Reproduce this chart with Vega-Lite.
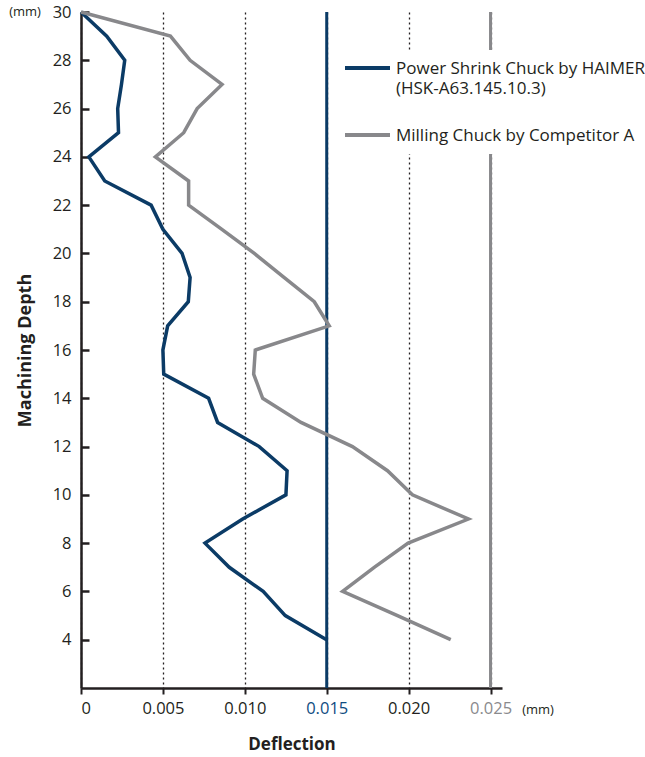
{
  "$schema": "https://vega.github.io/schema/vega-lite/v6.json",
  "width": 421,
  "height": 676,
  "autosize": "none",
  "padding": {"left": 81, "top": 12, "right": 143, "bottom": 69},
  "config": {
    "view": {"stroke": null},
    "font": "Open Sans",
    "axis": {"labelFont": "Open Sans", "titleFont": "Open Sans", "domainColor": "#231f20", "tickColor": "#231f20", "labelColor": "#231f20", "titleColor": "#231f20"},
    "legend": {"labelFont": "Open Sans"}
  },
  "datasets": {
    "deflection": [
      {"depth": 30, "value": 0.0, "chuck": "Power Shrink Chuck by HAIMER"},
      {"depth": 29, "value": 0.00157, "chuck": "Power Shrink Chuck by HAIMER"},
      {"depth": 28, "value": 0.00267, "chuck": "Power Shrink Chuck by HAIMER"},
      {"depth": 27, "value": 0.00247, "chuck": "Power Shrink Chuck by HAIMER"},
      {"depth": 26, "value": 0.00224, "chuck": "Power Shrink Chuck by HAIMER"},
      {"depth": 25, "value": 0.00229, "chuck": "Power Shrink Chuck by HAIMER"},
      {"depth": 24, "value": 0.00048, "chuck": "Power Shrink Chuck by HAIMER"},
      {"depth": 23, "value": 0.00145, "chuck": "Power Shrink Chuck by HAIMER"},
      {"depth": 22, "value": 0.00428, "chuck": "Power Shrink Chuck by HAIMER"},
      {"depth": 21, "value": 0.0050, "chuck": "Power Shrink Chuck by HAIMER"},
      {"depth": 20, "value": 0.00617, "chuck": "Power Shrink Chuck by HAIMER"},
      {"depth": 19, "value": 0.00666, "chuck": "Power Shrink Chuck by HAIMER"},
      {"depth": 18, "value": 0.00655, "chuck": "Power Shrink Chuck by HAIMER"},
      {"depth": 17, "value": 0.00529, "chuck": "Power Shrink Chuck by HAIMER"},
      {"depth": 16, "value": 0.0050, "chuck": "Power Shrink Chuck by HAIMER"},
      {"depth": 15, "value": 0.00505, "chuck": "Power Shrink Chuck by HAIMER"},
      {"depth": 14, "value": 0.00779, "chuck": "Power Shrink Chuck by HAIMER"},
      {"depth": 13, "value": 0.00834, "chuck": "Power Shrink Chuck by HAIMER"},
      {"depth": 12, "value": 0.01088, "chuck": "Power Shrink Chuck by HAIMER"},
      {"depth": 11, "value": 0.01258, "chuck": "Power Shrink Chuck by HAIMER"},
      {"depth": 10, "value": 0.01251, "chuck": "Power Shrink Chuck by HAIMER"},
      {"depth": 9, "value": 0.00987, "chuck": "Power Shrink Chuck by HAIMER"},
      {"depth": 8, "value": 0.00757, "chuck": "Power Shrink Chuck by HAIMER"},
      {"depth": 7, "value": 0.00905, "chuck": "Power Shrink Chuck by HAIMER"},
      {"depth": 6, "value": 0.01112, "chuck": "Power Shrink Chuck by HAIMER"},
      {"depth": 5, "value": 0.01247, "chuck": "Power Shrink Chuck by HAIMER"},
      {"depth": 4, "value": 0.01499, "chuck": "Power Shrink Chuck by HAIMER"},
      {"depth": 30, "value": 0.0, "chuck": "Milling Chuck by Competitor A"},
      {"depth": 29, "value": 0.00546, "chuck": "Milling Chuck by Competitor A"},
      {"depth": 28, "value": 0.00666, "chuck": "Milling Chuck by Competitor A"},
      {"depth": 27, "value": 0.00861, "chuck": "Milling Chuck by Competitor A"},
      {"depth": 26, "value": 0.00709, "chuck": "Milling Chuck by Competitor A"},
      {"depth": 25, "value": 0.00627, "chuck": "Milling Chuck by Competitor A"},
      {"depth": 24, "value": 0.00454, "chuck": "Milling Chuck by Competitor A"},
      {"depth": 23, "value": 0.00657, "chuck": "Milling Chuck by Competitor A"},
      {"depth": 22, "value": 0.00657, "chuck": "Milling Chuck by Competitor A"},
      {"depth": 21, "value": 0.0086, "chuck": "Milling Chuck by Competitor A"},
      {"depth": 20, "value": 0.01058, "chuck": "Milling Chuck by Competitor A"},
      {"depth": 19, "value": 0.01241, "chuck": "Milling Chuck by Competitor A"},
      {"depth": 18, "value": 0.01424, "chuck": "Milling Chuck by Competitor A"},
      {"depth": 17, "value": 0.01515, "chuck": "Milling Chuck by Competitor A"},
      {"depth": 16, "value": 0.01064, "chuck": "Milling Chuck by Competitor A"},
      {"depth": 15, "value": 0.01054, "chuck": "Milling Chuck by Competitor A"},
      {"depth": 14, "value": 0.01109, "chuck": "Milling Chuck by Competitor A"},
      {"depth": 13, "value": 0.01343, "chuck": "Milling Chuck by Competitor A"},
      {"depth": 12, "value": 0.01657, "chuck": "Milling Chuck by Competitor A"},
      {"depth": 11, "value": 0.01871, "chuck": "Milling Chuck by Competitor A"},
      {"depth": 10, "value": 0.02023, "chuck": "Milling Chuck by Competitor A"},
      {"depth": 9, "value": 0.02365, "chuck": "Milling Chuck by Competitor A"},
      {"depth": 8, "value": 0.01997, "chuck": "Milling Chuck by Competitor A"},
      {"depth": 7, "value": 0.0179, "chuck": "Milling Chuck by Competitor A"},
      {"depth": 6, "value": 0.01597, "chuck": "Milling Chuck by Competitor A"},
      {"depth": 5, "value": 0.01932, "chuck": "Milling Chuck by Competitor A"},
      {"depth": 4, "value": 0.02257, "chuck": "Milling Chuck by Competitor A"}
    ],
    "limits": [
      {"chuck": "Power Shrink Chuck by HAIMER", "limit": 0.015},
      {"chuck": "Milling Chuck by Competitor A", "limit": 0.025}
    ],
    "unit": [{"unit": "(mm)"}]
  },
  "layer": [
    {
      "data": {"name": "limits"},
      "mark": {"type": "rule", "strokeWidth": 3},
      "encoding": {
        "x": {"field": "limit", "type": "quantitative", "scale": {"domain": [0, 0.0257], "nice": false, "zero": false},
          "axis": {
            "values": [0, 0.005, 0.01, 0.015, 0.02, 0.025],
            "labelExpr": "datum.value == 0 ? '0' : format(datum.value, '.3f')",
            "labelFontSize": 16.5,
            "labelColor": {"condition": [{"test": "abs(datum.value-0.015) < 1e-6", "value": "#0f4c81"}, {"test": "abs(datum.value-0.025) < 1e-6", "value": "#8a8a8d"}], "value": "#231f20"},
            "labelPadding": 6,
            "tickSize": 6,
            "tickWidth": 2,
            "domainWidth": 2.5,
            "grid": true,
            "gridDash": [2, 3],
            "gridColor": "#231f20",
            "gridWidth": 1.3,
            "title": "Deflection",
            "titleFontSize": 17,
            "titleFontWeight": "bold",
            "titlePadding": 20
          }
        },
        "color": {"field": "chuck", "type": "nominal",
          "scale": {"domain": ["Power Shrink Chuck by HAIMER", "Milling Chuck by Competitor A"], "range": ["#0b3b66", "#88888b"]},
          "legend": {
            "title": null,
            "orient": "none",
            "legendX": 252,
            "legendY": 38,
            "padding": 10,
            "fillColor": "white",
            "symbolType": "stroke",
            "symbolSize": 2025,
            "symbolStrokeWidth": 4,
            "labelFontSize": 17,
            "labelColor": "#231f20",
            "labelOffset": 4,
            "labelLimit": 400,
            "labelBaseline": "top",
            "rowPadding": 29,
            "labelExpr": "datum.label == 'Power Shrink Chuck by HAIMER' ? ['Power Shrink Chuck by HAIMER', '(HSK-A63.145.10.3)'] : datum.label",
            "encode": {
              "labels": {"update": {"y": {"value": 0.5}, "lineHeight": {"value": 20}}},
              "symbols": {"update": {"y": {"value": 8}}}
            }
          }
        }
      }
    },
    {
      "data": {"name": "deflection"},
      "mark": {"type": "line", "strokeWidth": 3.5, "strokeJoin": "miter"},
      "encoding": {
        "x": {"field": "value", "type": "quantitative"},
        "y": {"field": "depth", "type": "quantitative", "scale": {"domain": [2, 30], "nice": false, "zero": false},
          "axis": {
            "values": [4, 6, 8, 10, 12, 14, 16, 18, 20, 22, 24, 26, 28, 30],
            "labelFontSize": 16.5,
            "tickSize": -8,
            "tickWidth": 2.5,
            "domainWidth": 2.5,
            "labelPadding": 18,
            "grid": false,
            "title": "Machining Depth",
            "titleFontSize": 18,
            "titleFontWeight": "bold",
            "titlePadding": 18
          }
        },
        "order": {"field": "depth", "type": "quantitative"},
        "color": {"field": "chuck", "type": "nominal"}
      }
    },
    {
      "data": {"name": "unit"},
      "mark": {"type": "text", "fontSize": 13, "color": "#231f20", "align": "center", "baseline": "middle", "dx": -56},
      "encoding": {
        "x": {"datum": 0},
        "y": {"datum": 30},
        "text": {"field": "unit"}
      }
    },
    {
      "data": {"name": "unit"},
      "mark": {"type": "text", "fontSize": 13, "color": "#231f20", "align": "center", "baseline": "middle", "dx": 36, "dy": 22},
      "encoding": {
        "x": {"datum": 0.0257},
        "y": {"datum": 2},
        "text": {"field": "unit"}
      }
    }
  ]
}
